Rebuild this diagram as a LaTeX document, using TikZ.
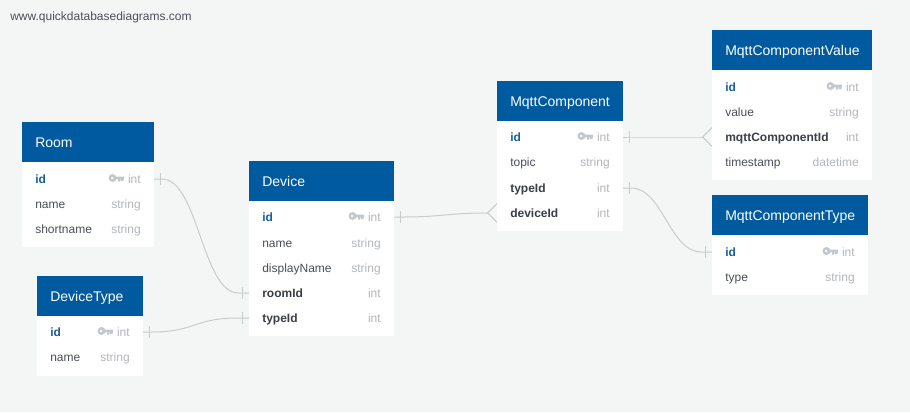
\documentclass[tikz,border=0pt]{standalone}
\usepackage{fontspec}
\setmainfont{Liberation Sans}
\definecolor{bgc}{HTML}{F4F6F6}
\definecolor{headc}{HTML}{005A9F}
\definecolor{idc}{HTML}{1A5E9E}
\definecolor{namec}{HTML}{4A4F57}
\definecolor{boldc}{HTML}{3A3F47}
\definecolor{typec}{HTML}{B2B6BC}
\definecolor{keyc}{HTML}{C3C8CF}
\definecolor{linec}{HTML}{CACCCC}
\tikzset{
  x=0.75pt,y=-0.75pt,
  headbox/.style={fill=headc,draw=none,inner sep=0,outer sep=0,anchor=north west},
  bodybox/.style={fill=white,draw=none,inner sep=0,outer sep=0,anchor=north west},
  titletext/.style={text=white,font=\fontsize{10.5}{12}\selectfont,anchor=base west,inner sep=0},
  idtext/.style={text=idc,font=\fontsize{9}{11}\selectfont\bfseries,anchor=base west,inner sep=0},
  nametext/.style={text=namec,font=\fontsize{9}{11}\selectfont,anchor=base west,inner sep=0},
  fktext/.style={text=boldc,font=\fontsize{9}{11}\selectfont\bfseries,anchor=base west,inner sep=0},
  typetext/.style={text=typec,font=\fontsize{9}{11}\selectfont,anchor=base east,inner sep=0},
  conn/.style={draw=linec,line width=0.75pt},
}
% table: name, x, y, width, body height, title
\newcommand\ertable[6]{%
  \node[bodybox,minimum width=#4*0.75pt,minimum height=#5*0.75pt] (#1-body) at (#2,#3+40) {};
  \node[headbox,minimum width=#4*0.75pt,minimum height=30pt] (#1) at (#2,#3) {};
  \node[titletext] (#1-title) at (#2+13,#3+25) {#6};
}
% row: table, key, left x, right x, y, style, name, type
\newcommand\errow[8]{%
  \node[#6] (#1-#2) at (#3+13,#5+4) {#7};
  \node[typetext] (#1-#2-t) at (#4-13,#5+4) {#8};
  \coordinate (#1-#2-L) at (#3,#5);
  \coordinate (#1-#2-R) at (#4,#5);
}
\newcommand\erkey[2]{% right x, y
  \begin{scope}[shift={(#1-45.5,#2-1)}]
    \fill[keyc,even odd rule] (4,0) circle (4) (3.6,0) circle (1.5);
    \fill[keyc] (7,-1.3) rectangle (15.5,1.3) (9.5,1) rectangle (11.8,3.6) (12.6,1) rectangle (15,3);
  \end{scope}
}
\begin{document}
\begin{tikzpicture}
\useasboundingbox (0,0) rectangle (910,412);
\fill[bgc] (0,0) rectangle (910,412);
\node[anchor=base west,inner sep=0,text=namec,font=\fontsize{9}{10}\selectfont] (site) at (10,20) {www.quickdatabasediagrams.com};

\ertable{room}{22}{122}{132}{85}{Room}
\errow{room}{id}{22}{154}{179}{idtext}{id}{int}
\errow{room}{name}{22}{154}{204}{nametext}{name}{string}
\errow{room}{short}{22}{154}{229}{nametext}{shortname}{string}
\erkey{154}{179}

\ertable{dtype}{37}{276}{106}{60}{DeviceType}
\errow{dtype}{id}{37}{143}{332}{idtext}{id}{int}
\errow{dtype}{name}{37}{143}{357}{nametext}{name}{string}
\erkey{143}{332}

\ertable{device}{249}{161}{145}{135}{Device}
\errow{device}{id}{249}{394}{217}{idtext}{id}{int}
\errow{device}{name}{249}{394}{243}{nametext}{name}{string}
\errow{device}{disp}{249}{394}{268}{nametext}{displayName}{string}
\errow{device}{room}{249}{394}{293}{fktext}{roomId}{int}
\errow{device}{type}{249}{394}{318}{fktext}{typeId}{int}
\erkey{394}{217}

\ertable{comp}{497}{81}{126}{110}{MqttComponent}
\errow{comp}{id}{497}{623}{137}{idtext}{id}{int}
\errow{comp}{topic}{497}{623}{162}{nametext}{topic}{string}
\errow{comp}{type}{497}{623}{188}{fktext}{typeId}{int}
\errow{comp}{dev}{497}{623}{213}{fktext}{deviceId}{int}
\erkey{623}{137}

\ertable{val}{712}{30}{160}{110}{MqttComponentValue}
\errow{val}{id}{712}{872}{87}{idtext}{id}{int}
\errow{val}{value}{712}{872}{112}{nametext}{value}{string}
\errow{val}{cid}{712}{872}{137}{fktext}{mqttComponentId}{int}
\errow{val}{ts}{712}{872}{162}{nametext}{timestamp}{datetime}
\erkey{872}{87}

\ertable{ctype}{712}{195}{156}{60}{MqttComponentType}
\errow{ctype}{id}{712}{868}{252}{idtext}{id}{int}
\errow{ctype}{type}{712}{868}{277}{nametext}{type}{string}
\erkey{868}{252}

% connectors
\draw[conn] (room-id-R) -- ++(8,0) .. controls +(36,0) and +(-36,0) .. ([xshift=-8]device-room-L) -- (device-room-L);
\draw[conn] (dtype-id-R) -- ++(8,0) .. controls +(45,0) and +(-45,0) .. ([xshift=-8]device-type-L) -- (device-type-L);
\draw[conn] (device-id-R) -- ++(8,0) .. controls +(40,0) and +(-40,0) .. ([xshift=-7]comp-dev-L);
\draw[conn] (comp-id-R) -- ++(8,0) .. controls +(30,0) and +(-30,0) .. ([xshift=-7]val-cid-L);
\draw[conn] (comp-type-R) -- ++(8,0) .. controls +(32,0) and +(-32,0) .. ([xshift=-8]ctype-id-L) -- (ctype-id-L);

% one-side bars
\draw[conn] ([xshift=5]room-id-R) ++(0,-6) -- ++(0,12);
\draw[conn] ([xshift=5]dtype-id-R) ++(0,-6) -- ++(0,12);
\draw[conn] ([xshift=5]device-id-R) ++(0,-6) -- ++(0,12);
\draw[conn] ([xshift=5]comp-id-R) ++(0,-6) -- ++(0,12);
\draw[conn] ([xshift=5]comp-type-R) ++(0,-6) -- ++(0,12);
\draw[conn] ([xshift=-5]device-room-L) ++(0,-6) -- ++(0,12);
\draw[conn] ([xshift=-5]device-type-L) ++(0,-6) -- ++(0,12);
\draw[conn] ([xshift=-5]ctype-id-L) ++(0,-6) -- ++(0,12);
% crow's feet
\draw[conn] ([yshift=-7]comp-dev-L) -- ([xshift=-7]comp-dev-L) -- ([yshift=7]comp-dev-L);
\draw[conn] ([yshift=-7]val-cid-L) -- ([xshift=-7]val-cid-L) -- ([yshift=7]val-cid-L);
\end{tikzpicture}
\end{document}
